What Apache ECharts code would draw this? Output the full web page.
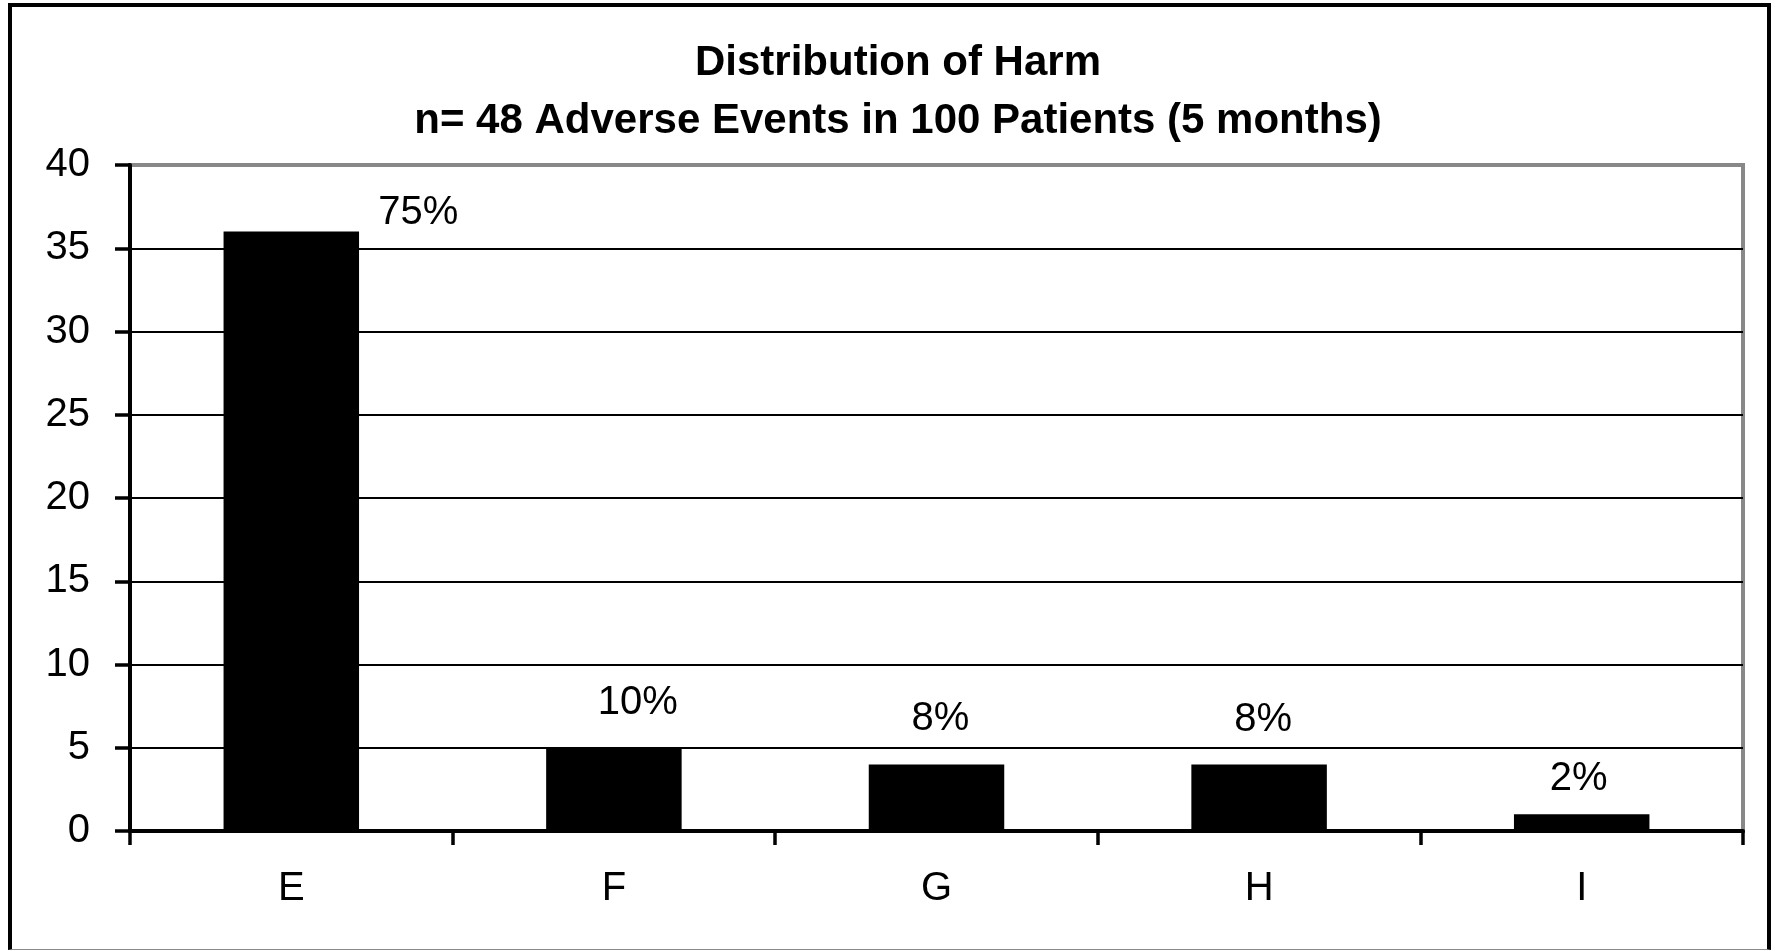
<!DOCTYPE html>
<html>
<head>
<meta charset="utf-8">
<title>Distribution of Harm</title>
<script src="https://cdn.jsdelivr.net/npm/echarts@6/dist/echarts.min.js"></script>
<style>
  html, body { margin: 0; padding: 0; background: #fff; }
  #chart { position: absolute; left: 0; top: 0; width: 1775px; height: 951px; }
  #frame {
    position: absolute; left: 8px; top: 3px; width: 1763px; height: 947px;
    box-sizing: border-box; pointer-events: none;
    border-top: 4px solid #000; border-left: 4px solid #000;
    border-right: 4px solid #000; border-bottom: 1px solid #8a8a8a;
  }
</style>
</head>
<body>
<div id="chart"></div>
<div id="frame"></div>
<script>
// Harm categories and the number of adverse events in each
const categories = ['E', 'F', 'G', 'H', 'I'];
const eventCounts = [36, 5, 4, 4, 1];
const totalEvents = 48;
const patientCount = 100;
const yTicks = { min: 0, max: 40, step: 5 };

const titleMain = 'Distribution of Harm';
const titleSub = 'n= ' + totalEvents + ' Adverse Events in ' + patientCount + ' Patients (5 months)';

// hand-placed nudges for the percentage labels [dx, dy]
const labelNudge = [[127, 6], [24, -20], [4, -20], [4, -19], [-3, -10]];

const FONT = '"Liberation Sans", Arial, sans-serif';

const barData = eventCounts.map((v, i) => ({
  value: v,
  label: { offset: labelNudge[i] }
}));

// split lines: black, except the top one which is part of the grey frame
const splitCount = (yTicks.max - yTicks.min) / yTicks.step + 1;
const splitColors = Array.from({ length: splitCount }, (_, i) => i === splitCount - 1 ? 'rgba(0,0,0,0)' : '#000');

const chart = echarts.init(document.getElementById('chart'), null, { renderer: 'canvas' });

chart.setOption({
  backgroundColor: '#fff',
  animation: false,
  title: [
    {
      text: titleMain, left: 893, top: 37, textAlign: 'center',
      textStyle: { fontFamily: FONT, fontSize: 42, fontWeight: 'bold', color: '#000' }
    },
    {
      text: titleSub, left: 893, top: 95, textAlign: 'center',
      textStyle: { fontFamily: FONT, fontSize: 42, fontWeight: 'bold', color: '#000' }
    }
  ],
  grid: {
    left: 130, right: 32, top: 165, bottom: 120,
    show: true, borderColor: '#888', borderWidth: 4, backgroundColor: '#fff'
  },
  xAxis: {
    type: 'category',
    data: categories,
    boundaryGap: true,
    axisLine: { show: true, lineStyle: { color: '#000', width: 4 } },
    axisTick: { show: true, inside: false, length: 14, alignWithLabel: false, lineStyle: { color: '#000', width: 3.5 } },
    axisLabel: { margin: 38, fontFamily: FONT, fontSize: 40, color: '#000' },
    splitLine: { show: false }
  },
  yAxis: {
    type: 'value',
    min: yTicks.min, max: yTicks.max, interval: yTicks.step,
    axisLine: { show: true, lineStyle: { color: '#000', width: 4 } },
    axisTick: { show: true, inside: false, length: 15, lineStyle: { color: '#000', width: 3.5 } },
    axisLabel: { margin: 40, fontFamily: FONT, fontSize: 40, color: '#000' },
    splitLine: { show: true, lineStyle: { color: splitColors, width: 2 } }
  },
  series: [{
    type: 'bar',
    data: barData,
    barWidth: '42%',
    itemStyle: { color: '#000' },
    label: {
      show: true,
      position: 'top',
      distance: 5,
      fontFamily: FONT,
      fontSize: 40,
      color: '#000',
      formatter: p => Math.round(p.value / totalEvents * 100) + '%'
    }
  }]
});
</script>
</body>
</html>
